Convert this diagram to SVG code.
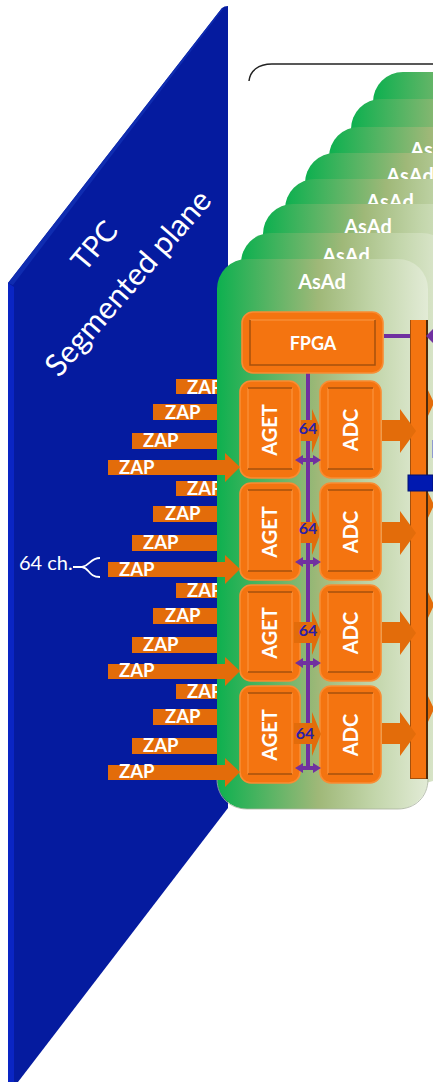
<svg xmlns="http://www.w3.org/2000/svg" width="433" height="1082" viewBox="0 0 433 1082">
<style>
text{font-family:Lato,"Liberation Sans",sans-serif;fill:#fff}
.card{fill:url(#g)}
.t{font-weight:700;font-size:20px;text-anchor:middle}
.zap{font-weight:700;font-size:18.5px}
.bar{fill:#e36c0a}
.outer{fill:#f47410;stroke:#f98c33;stroke-width:1.6}
.b1{fill:none;stroke:#a5500c;stroke-width:1.5}
.b2{fill:none;stroke:#f98c33;stroke-width:1.5}
.mod{font-weight:700;font-size:20px;text-anchor:middle}
.n{font-weight:700;font-size:16px;text-anchor:middle;fill:#2a1fa8}
.pl{stroke:#7030a0;stroke-width:4;fill:none}
.ph{fill:#7030a0}
</style>
<defs>
<linearGradient id="g" x1="0" x2="1" y1="0" y2="0">
<stop offset="0" stop-color="#0db04f"/><stop offset=".48" stop-color="#9fb878"/><stop offset=".75" stop-color="#c3d6ab"/><stop offset="1" stop-color="#e2ebd6"/>
</linearGradient>
</defs>

<g id="plane">
<path d="M8 283 222 8Q224 6 228 6V808L18 1082H8Z" fill="#051b9f"/>
<path d="M8 283V1082H14V287Z" fill="#0a25c4"/>
<path d="M8 283 222 8 223 9 13 285Z" fill="#0f2cb0"/>
<text transform="translate(102 252) rotate(-50)" font-size="29" text-anchor="middle">TPC</text>
<text transform="translate(136 290) rotate(-49)" font-size="31" text-anchor="middle">Segmented plane</text>
</g>

<g id="ch-label">
<text x="19" y="570" font-size="20" fill="#eef">64 ch.</text>
<path d="M73 567H82C90 566 90 558 100 558M82 567C90 568 88 577 100 577" fill="none" stroke="#fff" stroke-width="1.8"/>
</g>

<path id="bracket" d="M249 81C250 71 258 64 272 64H433" fill="none" stroke="#222" stroke-width="1.5"/>

<g id="zap-rows">
<rect class="bar" x="176" y="379" width="50" height="15"/><text class="zap" x="187" y="394">ZAP</text>
<rect class="bar" x="153" y="404" width="70" height="16"/><text class="zap" x="165" y="419">ZAP</text>
<rect class="bar" x="132" y="433" width="90" height="16"/><text class="zap" x="143" y="447">ZAP</text>
<rect class="bar" x="176" y="481" width="50" height="15"/><text class="zap" x="187" y="495">ZAP</text>
<rect class="bar" x="153" y="506" width="70" height="16"/><text class="zap" x="165" y="520">ZAP</text>
<rect class="bar" x="132" y="535" width="90" height="16"/><text class="zap" x="143" y="549">ZAP</text>
<rect class="bar" x="176" y="583" width="50" height="15"/><text class="zap" x="187" y="597">ZAP</text>
<rect class="bar" x="153" y="608" width="70" height="16"/><text class="zap" x="165" y="622">ZAP</text>
<rect class="bar" x="132" y="637" width="90" height="16"/><text class="zap" x="143" y="651">ZAP</text>
<rect class="bar" x="176" y="684" width="50" height="15"/><text class="zap" x="187" y="698">ZAP</text>
<rect class="bar" x="153" y="709" width="70" height="16"/><text class="zap" x="165" y="723">ZAP</text>
<rect class="bar" x="132" y="738" width="90" height="16"/><text class="zap" x="143" y="752">ZAP</text>
</g>

<g id="card8"><rect class="card" x="373" y="72" width="211" height="550" rx="30"/></g>
<g id="card7"><rect class="card" x="351" y="99" width="211" height="550" rx="30"/></g>
<g id="card6"><rect class="card" x="329" y="127" width="211" height="550" rx="30"/><text class="t" x="434" y="157">AsAd</text></g>
<g id="card5"><rect class="card" x="305" y="153" width="211" height="550" rx="30"/><text class="t" x="410" y="183">AsAd</text></g>
<g id="card4"><rect class="card" x="285" y="179" width="211" height="550" rx="30"/><text class="t" x="390" y="209">AsAd</text></g>
<g id="card3"><rect class="card" x="263" y="204" width="211" height="550" rx="30"/><text class="t" x="368" y="234">AsAd</text></g>
<g id="card2"><rect class="card" x="241" y="233" width="211" height="550" rx="30"/><text class="t" x="346" y="263">AsAd</text></g>
<g id="card2-parts" fill="#e36c0a">
<path d="M427 388 434 403 427 418ZM427 490 434 505 427 520ZM427 590 434 605 427 620ZM427 694 434 709 427 724Z"/>
<rect x="432" y="440" width="1" height="18" fill="#8f9ad0"/>
</g>
<g id="card1"><rect class="card" x="217" y="259" width="211" height="550" rx="30"/><path d="M217 779C217 797 230 809 247 809H398C415 809 428 797 428 779" fill="none" stroke="#a9b3a0" stroke-width=".8"/><text class="t" x="322" y="289">AsAd</text></g>

<g id="bus">
<rect x="410" y="320" width="18" height="459" fill="#a5500c"/>
<rect x="426" y="320" width="2" height="459" fill="#4e2a0a"/>
<rect x="411" y="320" width="15" height="458" fill="#f47410"/>
</g>

<g id="connectors">
<path class="pl" d="M308 372V770M384 336H410M428 336H433"/>
<path class="ph" d="M433 329 426 336 433 343Z"/>
<g class="bar">
<path d="M300 420H312V409L321 430 312 453V441H300Z"/>
<path d="M300 522H312V511L321 532 312 555V543H300Z"/>
<path d="M382 420H400V409L416 431 400 453V441H382Z"/>
<path d="M382 522H400V511L416 533 400 555V543H382Z"/>
<path d="M382 622H400V611L416 633 400 655V643H382Z"/>
<path d="M382 723H400V712L416 734 400 756V744H382Z"/>
</g>
</g>

<g id="fpga">
<rect class="outer" x="242" y="312" width="141" height="61" rx="11"/>
<path class="b2" d="M250 320H375"/><path class="b1" d="M250 320V365H375V320"/>
<text class="mod" x="313" y="350" style="font-size:18px">FPGA</text>
</g>
<g id="aget1"><rect class="outer" x="240" y="381" width="60" height="97" rx="11"/><path class="b2" d="M248 388V469M292 388V469"/><path class="b1" d="M248 388H292M248 469H292"/><text class="mod" transform="translate(277 430) rotate(-90)">AGET</text></g>
<g id="adc1"><rect class="outer" x="320" y="381" width="61" height="97" rx="11"/><path class="b2" d="M328 388V469M373 388V469"/><path class="b1" d="M328 388H373M328 469H373"/><text class="mod" transform="translate(358 430) rotate(-90)">ADC</text></g>
<g id="aget2"><rect class="outer" x="240" y="483" width="60" height="97" rx="11"/><path class="b2" d="M248 490V571M292 490V571"/><path class="b1" d="M248 490H292M248 571H292"/><text class="mod" transform="translate(277 532) rotate(-90)">AGET</text></g>
<g id="adc2"><rect class="outer" x="320" y="483" width="61" height="97" rx="11"/><path class="b2" d="M328 490V571M373 490V571"/><path class="b1" d="M328 490H373M328 571H373"/><text class="mod" transform="translate(358 532) rotate(-90)">ADC</text></g>
<g id="aget3"><rect class="outer" x="240" y="585" width="60" height="96" rx="11"/><path class="b2" d="M248 592V672M292 592V672"/><path class="b1" d="M248 592H292M248 672H292"/><text class="mod" transform="translate(277 633) rotate(-90)">AGET</text></g>
<g id="adc3"><rect class="outer" x="320" y="585" width="61" height="96" rx="11"/><path class="b2" d="M328 592V672M373 592V672"/><path class="b1" d="M328 592H373M328 672H373"/><text class="mod" transform="translate(358 633) rotate(-90)">ADC</text></g>
<g id="aget4"><rect class="outer" x="240" y="686" width="60" height="97" rx="11"/><path class="b2" d="M248 693V774M292 693V774"/><path class="b1" d="M248 693H292M248 774H292"/><text class="mod" transform="translate(277 735) rotate(-90)">AGET</text></g>
<g id="adc4"><rect class="outer" x="320" y="686" width="61" height="97" rx="11"/><path class="b2" d="M328 693V774M373 693V774"/><path class="b1" d="M328 693H373M328 774H373"/><text class="mod" transform="translate(358 735) rotate(-90)">ADC</text></g>

<g id="connectors-top">
<rect x="408" y="475" width="25" height="16" fill="#0019b0" stroke="#001070"/>
<g class="bar">
<path d="M294 622H312V611L321 632 312 655V643H294Z"/>
<path d="M294 723H312V712L321 734 312 756V744H294Z"/>
</g>
<g class="ph">
<path d="M295 460 303 455V458H313V455L321 460 313 465V462H303V465Z"/>
<path d="M295 562 303 557V560H313V557L321 562 313 567V564H303V567Z"/>
<path d="M295 663 303 658V661H313V658L321 663 313 668V665H303V668Z"/>
<path d="M295 768 303 763V766H313V763L321 768 313 773V770H303V773Z"/>
</g>
<g class="bar">
<path d="M108 460H225V453L240 467 225 482V475H108Z"/>
<path d="M108 562H225V555L240 569 225 584V577H108Z"/>
<path d="M108 664H225V657L240 671 225 686V679H108Z"/>
<path d="M108 765H225V758L240 772 225 787V780H108Z"/>
</g>
</g>

<g id="zap-arrow-labels">
<text class="zap" x="119" y="474">ZAP</text>
<text class="zap" x="119" y="576">ZAP</text>
<text class="zap" x="119" y="677">ZAP</text>
<text class="zap" x="119" y="778">ZAP</text>
</g>

<g id="bus-labels">
<text class="n" x="308" y="434">64</text>
<text class="n" x="308" y="534">64</text>
<text class="n" x="308" y="636">64</text>
<text class="n" x="305" y="739">64</text>
</g>
</svg>
